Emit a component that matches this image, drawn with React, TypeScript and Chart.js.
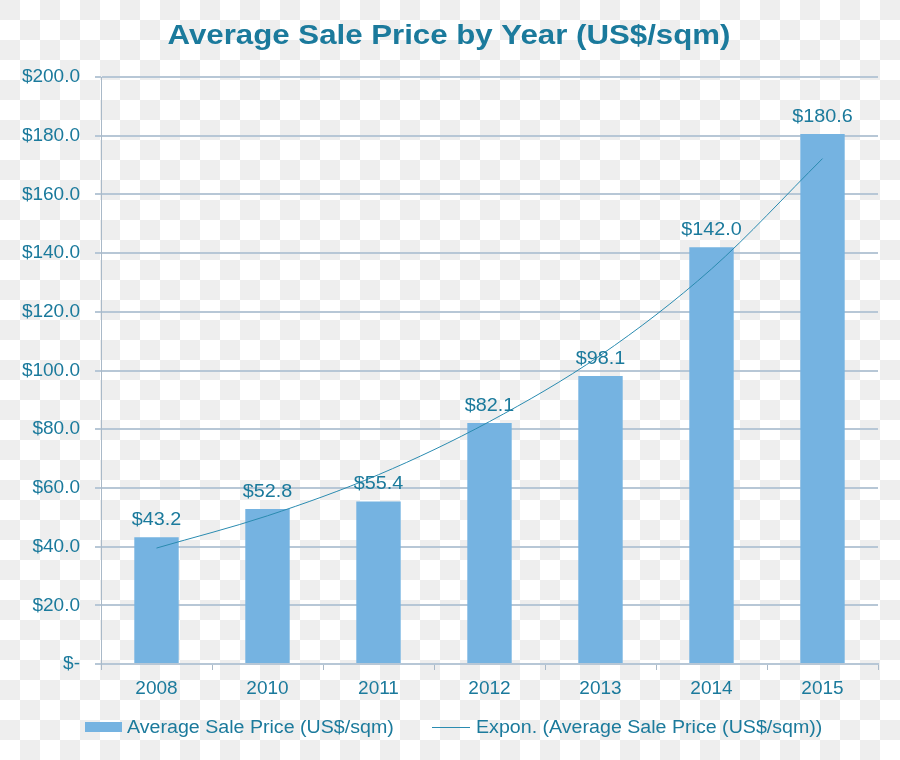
import React, { useEffect, useRef } from "react";
import { Chart, registerables } from "chart.js";

Chart.register(...registerables);

const categories = ["2008", "2010", "2011", "2012", "2013", "2014", "2015"];
const avgPrice = [43.2, 52.8, 55.4, 82.1, 98.1, 142.0, 180.6];
const trendValues = [39.5, 50.5, 64.5, 82.6, 105.2, 134.6, 172.2];
const yTicks = [0, 20, 40, 60, 80, 100, 120, 140, 160, 180, 200];
const titleText = "Average Sale Price by Year (US$/sqm)";
const barLabel = "Average Sale Price (US$/sqm)";
const trendLabel = "Expon. (Average Sale Price (US$/sqm))";

const TEXT = "#1b7a9c";
const BAR = "#75b3e1";
const GRID = "#b7c7d6";
const TREND = "#2a8bb0";
const FONT = "'Liberation Sans', Arial, sans-serif";
const STRETCH = 1.1;

const fmt = (v: number) => (v === 0 ? "$-" : "$" + v.toFixed(1));

function stretchedText(ctx: any, text: string, x: number, y: number, sx: number) {
  ctx.save();
  ctx.translate(x, y);
  ctx.scale(sx, 1);
  ctx.fillText(text, 0, 0);
  ctx.restore();
}

const decorPlugin = {
  id: "decor",
  afterDatasetsDraw(chart: any) {
    const ctx = chart.ctx;
    ctx.save();
    const meta = chart.getDatasetMeta(0);
    ctx.fillStyle = TEXT;
    ctx.font = `18px ${FONT}`;
    ctx.textAlign = "center";
    ctx.textBaseline = "alphabetic";
    meta.data.forEach((bar: any, i: number) => {
      stretchedText(ctx, fmt(avgPrice[i]), bar.x, bar.y - 12, STRETCH);
    });
    ctx.restore();
  },
  afterDraw(chart: any) {
    const ctx = chart.ctx;
    ctx.save();
    ctx.fillStyle = TEXT;
    ctx.font = `bold 28px ${FONT}`;
    ctx.textAlign = "center";
    ctx.textBaseline = "middle";
    stretchedText(ctx, titleText, 449, 36, 1.115);
    ctx.font = `18px ${FONT}`;
    ctx.textAlign = "left";
    ctx.fillStyle = BAR;
    ctx.fillRect(85, 722, 37, 10);
    ctx.fillStyle = TEXT;
    stretchedText(ctx, barLabel, 127, 728, 1.09);
    ctx.strokeStyle = TREND;
    ctx.lineWidth = 1;
    ctx.beginPath();
    ctx.moveTo(432, 727.5);
    ctx.lineTo(470, 727.5);
    ctx.stroke();
    stretchedText(ctx, trendLabel, 476, 728, 1.09);
    ctx.restore();
  },
};

export default function App() {
  const ref = useRef<HTMLCanvasElement | null>(null);

  useEffect(() => {
    document.body.style.margin = "0";
    const cv = ref.current;
    if (!cv) return;
    const chart = new Chart(cv, {
      type: "bar",
      data: {
        labels: categories,
        datasets: [
          {
            type: "bar",
            label: barLabel,
            data: avgPrice,
            backgroundColor: BAR,
            categoryPercentage: 1,
            barPercentage: 0.4,
            order: 2,
          },
          {
            type: "line",
            label: trendLabel,
            data: trendValues,
            borderColor: TREND,
            borderWidth: 1,
            pointRadius: 0,
            cubicInterpolationMode: "monotone",
            fill: false,
            order: 1,
          } as any,
        ],
      },
      options: {
        animation: false,
        responsive: false,
        maintainAspectRatio: false,
        devicePixelRatio: 1,
        layout: { padding: { top: 77, right: 22, bottom: 0, left: 0 } },
        plugins: {
          legend: { display: false },
          title: { display: false },
          tooltip: { enabled: false },
        },
        scales: {
          x: {
            offset: true,
            grid: {
              offset: true,
              drawOnChartArea: false,
              drawTicks: true,
              tickLength: 6,
              color: "#a9b9c8",
              lineWidth: 1,
            },
            border: { color: GRID, width: 2 },
            ticks: {
              color: TEXT,
              font: { family: FONT, size: 19 },
              padding: 7,
              maxRotation: 0,
            },
            afterFit(scale: any) {
              scale.height = 96;
            },
          },
          y: {
            min: 0,
            max: 200,
            afterBuildTicks(scale: any) {
              scale.ticks = yTicks.map((v) => ({ value: v }));
            },
            grid: {
              color: GRID,
              lineWidth: 2,
              tickLength: 6,
            },
            border: { color: "#a9b9c8", width: 1 },
            ticks: {
              color: TEXT,
              font: { family: FONT, size: 19 },
              padding: 15,
              callback: (v: any) => fmt(Number(v)),
            },
            afterFit(scale: any) {
              scale.width = 101;
            },
          },
        },
      },
      plugins: [decorPlugin],
    });
    return () => chart.destroy();
  }, []);

  const checker =
    "repeating-conic-gradient(#ffffff 0% 25%, #eeeeee 0% 50%) 0 0 / 40px 40px";

  return (
    <div style={{ width: 900, height: 760, background: checker, position: "relative" }}>
      <canvas ref={ref} width={900} height={760} style={{ display: "block" }} />
    </div>
  );
}
